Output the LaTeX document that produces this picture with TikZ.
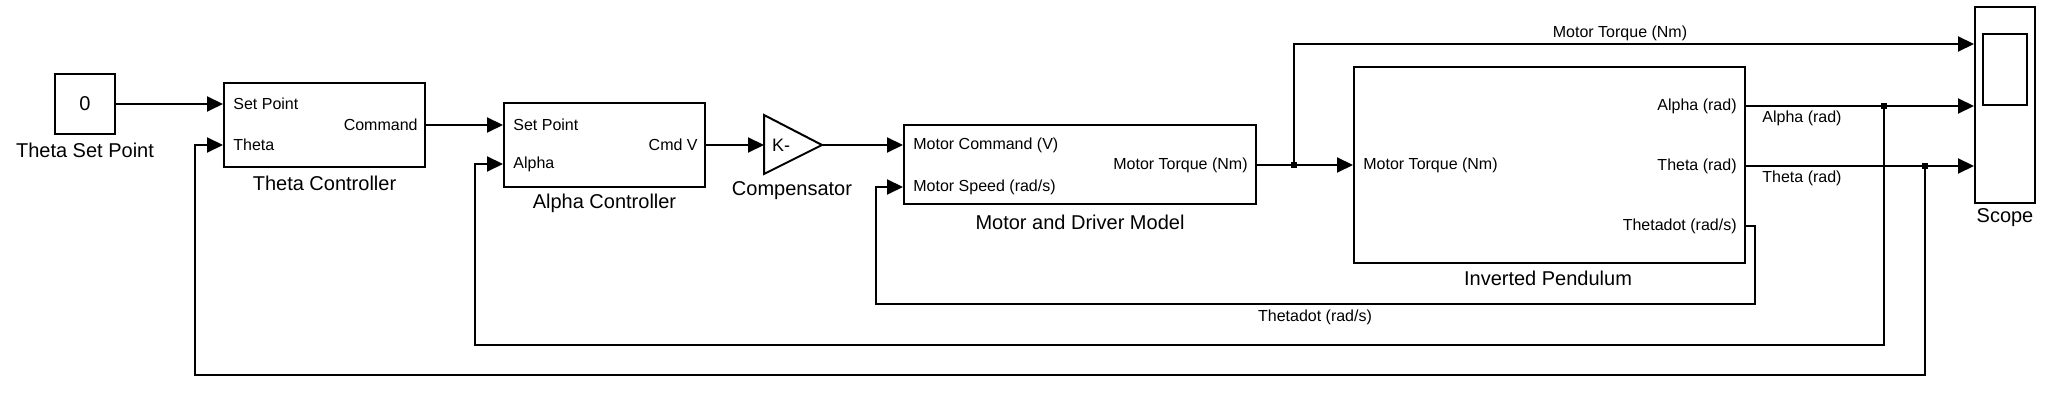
\documentclass[tikz,border=0pt]{standalone}
\usepackage{fontspec}
\setmainfont{Liberation Sans}
\usetikzlibrary{arrows.meta}
\begin{document}
\begin{tikzpicture}[x=0.5pt,y=-0.5pt,
  blk/.style={draw,line width=1pt,inner sep=0pt,anchor=center},
  port/.style={font=\fontsize{8}{9}\selectfont,inner sep=0pt},
  lbl/.style={font=\fontsize{10}{12}\selectfont,inner sep=0pt},
  wire/.style={line width=1pt},
  arr/.style={wire,-{Triangle[length=8pt,width=7.5pt]}},
  dot/.style={fill=black,inner sep=0pt,minimum size=3pt,rectangle}]
\useasboundingbox (0,0) rectangle (2052,406);

% blocks
\node[blk,minimum width=30pt,minimum height=30pt,font=\fontsize{10}{12}\selectfont] (tsp) at (85,104) {0};
\node[lbl] (tspl) at (85,150) {Theta Set Point};

\node[blk,minimum width=100.5pt,minimum height=42pt] (tc) at (324.5,125) {};
\node[lbl] (tcl) at (324.5,183) {Theta Controller};
\node[port,anchor=west] (tcp1) at (233,104) {Set Point};
\node[port,anchor=west] (tcp2) at (233,145) {Theta};
\node[port,anchor=east] (tco) at (418,125) {Command};

\node[blk,minimum width=100.5pt,minimum height=42pt] (ac) at (604.5,145) {};
\node[lbl] (acl) at (604.5,203) {Alpha Controller};
\node[port,anchor=west] (acp1) at (513,125) {Set Point};
\node[port,anchor=west] (acp2) at (513,164) {Alpha};
\node[port,anchor=east] (aco) at (698,145) {Cmd V};

\draw[wire] (764,115) -- (822,145) -- (764,174) -- cycle;
\coordinate (compin) at (764,145);
\coordinate (compout) at (822,145);
\node[port,font=\fontsize{9}{10}\selectfont] (k) at (781,145) {K-};
\node[lbl] (compl) at (792,191) {Compensator};

\node[blk,minimum width=176pt,minimum height=39.5pt] (mot) at (1080,164.5) {};
\node[lbl] (motl) at (1080,222) {Motor and Driver Model};
\node[port,anchor=west] (motp1) at (913,145) {Motor Command (V)};
\node[port,anchor=west] (motp2) at (913,187) {Motor Speed (rad/s)};
\node[port,anchor=east] (moto) at (1248,165) {Motor Torque (Nm)};

\node[blk,minimum width=195.5pt,minimum height=98pt] (pend) at (1549.5,165) {};
\node[lbl] (pendl) at (1548,278) {Inverted Pendulum};
\node[port,anchor=west] (pendp) at (1363,165) {Motor Torque (Nm)};
\node[port,anchor=east] (pendo1) at (1737,106) {Alpha (rad)};
\node[port,anchor=east] (pendo2) at (1737,166) {Theta (rad)};
\node[port,anchor=east] (pendo3) at (1737,226) {Thetadot (rad/s)};

\node[blk,minimum width=30pt,minimum height=98pt] (scope) at (2005,105) {};
\draw[wire] (1983,34) rectangle (2027,105);
\node[lbl] (scopel) at (2005,218) {Scope};

% signal labels
\node[port] (mtl) at (1620,33) {Motor Torque (Nm)};
\node[port,anchor=west] (al) at (1762,118) {Alpha (rad)};
\node[port,anchor=west] (thl) at (1762,178) {Theta (rad)};
\node[port] (tdl) at (1315,317) {Thetadot (rad/s)};

% branch points
\node[dot] (b1) at (1294,165) {};
\node[dot] (b2) at (1884,106) {};
\node[dot] (b3) at (1925,166) {};

% connectors
\draw[arr] (tsp.east) -- (tc.west |- tsp.east);
\draw[arr] (tc.east) -- (ac.west |- tc.east);
\draw[arr] (ac.east) -- (compin);
\draw[arr] (compout) -- (mot.west |- compout);
\draw[arr] (mot.east |- b1) -- (pend.west |- b1);
\draw[arr] (b1.center) -- (b1.center |- 0,44) -- (scope.west |- 0,44);
\draw[arr] (pend.east |- b2) -- (scope.west |- b2);
\draw[arr] (pend.east |- b3) -- (scope.west |- b3);
\draw[arr] (b2.center) -- (b2.center |- 0,345) -- (475,345) -- (475,164) -- (ac.west |- 0,164);
\draw[arr] (b3.center) -- (b3.center |- 0,375) -- (195,375) -- (195,145) -- (tc.west |- 0,145);
\draw[arr] (pend.east |- 0,226) -- (1755,226) -- (1755,304) -- (876,304) -- (876,187) -- (mot.west |- 0,187);
\end{tikzpicture}
\end{document}
